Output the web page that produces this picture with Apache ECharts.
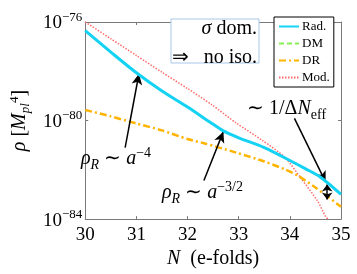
<!DOCTYPE html>
<html>
<head>
<meta charset="utf-8">
<script src="https://cdn.jsdelivr.net/npm/echarts@6/dist/echarts.min.js"></script>
<style>html,body{margin:0;padding:0;background:#fff}#c{width:357px;height:274px}</style>
</head>
<body>
<div id="c"></div>
<script>
// N (e-folds) and log10(rho / M_pl^4)
const radN  = [30, 30.5, 31, 31.5, 32, 32.45, 32.7, 33, 33.5, 34, 34.3, 34.6, 35];
const radL  = [-76.35, -77.22, -78.06, -78.8, -79.45, -80.08, -80.42, -80.7, -81.1, -81.62, -81.95, -82.3, -83.0];
const dmN   = [];
const dmL   = [];
const drN   = [30, 30.5, 31, 31.5, 32, 32.32, 32.95, 33.5, 33.9, 34.16, 34.5, 34.73, 35];
const drL   = [-79.57, -79.83, -80.12, -80.4, -80.75, -80.92, -81.3, -81.66, -81.98, -82.24, -82.72, -83.07, -83.5];
const modN  = [30, 30.5, 31, 31.5, 32, 32.47, 32.95, 33.46, 33.9, 34.22, 34.54, 34.7, 34.74];
const modL  = [-76.0, -76.68, -77.36, -78.04, -78.7, -79.35, -80.1, -80.8, -81.49, -82.35, -83.26, -83.9, -84.0];
const xTicks = [30, 31, 32, 33, 34, 35];
const yTickExp = [-84, -80, -76];
// annotation arrows [N, log10 rho] : tail -> head
const arrowA4  = [[30.78, -81.1], [31.05, -78.1]];
const arrowA32 = [[32.32, -82.43], [32.7, -80.45]];
const arrowDN  = [[34.09, -79.91], [34.7, -82.5]];
const dblArrow = [[34.73, -82.6], [34.73, -83.2]];

const SERIF = 'Liberation Serif';
const pairs = (xs, ys) => xs.map((x, i) => [x, ys[i]]);
const AX = '#7a7a7a';

const chart = echarts.init(document.getElementById('c'), null, {renderer: 'canvas'});

const mathRich = {
  m:   {fontFamily: SERIF, fontSize: 20, fontStyle: 'italic', lineHeight: 26, fill: '#000', verticalAlign: 'middle'},
  r:   {fontFamily: SERIF, fontSize: 20, lineHeight: 26, fill: '#000', verticalAlign: 'middle'},
  sub: {fontFamily: SERIF, fontSize: 14, fontStyle: 'italic', lineHeight: 14, fill: '#000', verticalAlign: 'bottom'},
  subr:{fontFamily: SERIF, fontSize: 14, lineHeight: 14, fill: '#000', verticalAlign: 'bottom'},
  sup: {fontFamily: SERIF, fontSize: 14, lineHeight: 14, fill: '#000', verticalAlign: 'top'}
};

const arrowLine = (a, doubleHead) => doubleHead ? [
  {coord: a[0], symbol: 'arrow', symbolSize: [8, 7]},
  {coord: a[1], symbol: 'arrow', symbolSize: [8, 7]}
] : [
  {coord: a[0], symbol: 'none'},
  {coord: a[1], symbol: 'arrow', symbolSize: [8, 11]}
];

const tickLabel = (v) => {
  const sup = (v < 0 ? '\u2212' : '') + Math.abs(v);
  return v === -76 ? '{bt|10}{st|' + sup + '}' : '{b|10}{s|' + sup + '}';
};

const option = {
  animation: false,
  grid: {left: 78, right: 16, top: 14, bottom: 47},
  xAxis: [{
    type: 'value', min: 30, max: 35, interval: 1,
    axisLine: {show: true, onZero: false, lineStyle: {color: AX, width: 1}},
    axisTick: {show: true, inside: true, length: 3, lineStyle: {color: AX}},
    splitLine: {show: false},
    axisLabel: {margin: 6, color: '#000', fontFamily: SERIF, fontSize: 19,
      formatter: v => xTicks.includes(v) ? String(v) : ''},
    name: '{i|N}  (e-folds)', nameLocation: 'middle', nameGap: 29,
    nameTextStyle: {color: '#000', fontFamily: SERIF, fontSize: 20,
      rich: {i: {fontFamily: SERIF, fontSize: 20, fontStyle: 'italic', color: '#000'}}}
  }, {
    type: 'value', position: 'top', min: 30, max: 35, interval: 1,
    axisLine: {show: true, onZero: false, lineStyle: {color: AX, width: 1}},
    axisTick: {show: true, inside: true, length: 3, lineStyle: {color: AX}},
    splitLine: {show: false}, axisLabel: {show: false}
  }],
  yAxis: [{
    type: 'value', min: -84, max: -76, interval: 4,
    axisLine: {show: true, onZero: false, lineStyle: {color: AX, width: 1}},
    axisTick: {show: true, inside: true, length: 3, lineStyle: {color: AX}},
    splitLine: {show: false},
    axisLabel: {margin: 3, color: '#000',
      formatter: v => yTickExp.includes(v) ? tickLabel(v) : '',
      rich: {
        b:  {fontFamily: SERIF, fontSize: 19, color: '#000', lineHeight: 22, verticalAlign: 'bottom'},
        s:  {fontFamily: SERIF, fontSize: 13, color: '#000', lineHeight: 13, verticalAlign: 'bottom', padding: [0, 0, 9, 0]},
        bt: {fontFamily: SERIF, fontSize: 19, color: '#000', lineHeight: 22, verticalAlign: 'bottom', padding: [14, 0, 0, 0]},
        st: {fontFamily: SERIF, fontSize: 13, color: '#000', lineHeight: 13, verticalAlign: 'bottom', padding: [0, 0, 9, 0]}
      }},
    name: '{i|\u03c1} [{i|M}{sub|pl}{sup|4}]', nameLocation: 'middle', nameGap: 44,
    nameTextStyle: {color: '#000', fontFamily: SERIF, fontSize: 20,
      rich: {
        i:   {fontFamily: SERIF, fontSize: 20, fontStyle: 'italic', color: '#000', lineHeight: 24, verticalAlign: 'middle'},
        sub: {fontFamily: SERIF, fontSize: 13, fontStyle: 'italic', color: '#000', lineHeight: 13, verticalAlign: 'bottom'},
        sup: {fontFamily: SERIF, fontSize: 13, color: '#000', lineHeight: 13, verticalAlign: 'top'}
      }}
  }, {
    type: 'value', position: 'right', min: -84, max: -76, interval: 4,
    axisLine: {show: true, onZero: false, lineStyle: {color: AX, width: 1}},
    axisTick: {show: true, inside: true, length: 3, lineStyle: {color: AX}},
    splitLine: {show: false}, axisLabel: {show: false}
  }],
  legend: {
    left: 274, top: 17, orient: 'vertical',
    itemWidth: 20, itemHeight: 10, itemGap: 4,
    padding: [3, 4, 3, 4],
    borderColor: '#000', borderWidth: 1, backgroundColor: '#fff',
    itemStyle: {opacity: 0},
    textStyle: {fontFamily: SERIF, fontSize: 13, color: '#000', padding: [0, 0, 0, -2]},
    data: ['Rad.', 'DM', 'DR', 'Mod.']
  },
  series: [
    {name: 'Mod.', type: 'line', data: pairs(modN, modL), symbol: 'none', smooth: 0.25, z: 2,
      lineStyle: {color: '#ff6b6b', width: 1.5, type: [1.5, 1.5]}, itemStyle: {color: '#ff6b6b'}},
    {name: 'DM', type: 'line', data: pairs(dmN, dmL), symbol: 'none', smooth: 0.25, z: 3,
      lineStyle: {color: '#86f050', width: 2.5, type: [5, 3]}, itemStyle: {color: '#86f050'}},
    {name: 'DR', type: 'line', data: pairs(drN, drL), symbol: 'none', smooth: 0.25, z: 4,
      lineStyle: {color: '#ffb400', width: 2.5, type: [7, 3, 2, 3]}, itemStyle: {color: '#ffb400'}},
    {name: 'Rad.', type: 'line', data: pairs(radN, radL), symbol: 'none', smooth: 0.3, z: 5,
      lineStyle: {color: '#14d2f4', width: 3}, itemStyle: {color: '#14d2f4'},
      markLine: {
        silent: true, animation: false,
        label: {show: false},
        lineStyle: {color: '#000', width: 1.5, type: 'solid'},
        data: [arrowLine(arrowA4), arrowLine(arrowA32), arrowLine(arrowDN), arrowLine(dblArrow, true)]
      }}
  ],
  graphic: [
    {type: 'rect', z: 50, shape: {x: 171, y: 19, width: 88, height: 44},
      style: {fill: '#fff', stroke: '#a9c8ea', lineWidth: 1}},
    {type: 'text', z: 51, x: 257, y: 29, style: {text: '{m|\u03c3}{r| dom.}', rich: mathRich, align: 'right', verticalAlign: 'middle'}},
    {type: 'text', z: 51, x: 172, y: 58, style: {text: '{r|\u21d2}', rich: mathRich, align: 'left', verticalAlign: 'middle'}},
    {type: 'text', z: 51, x: 257, y: 58, style: {text: '{r|no iso.}', rich: mathRich, align: 'right', verticalAlign: 'middle'}},
    {type: 'text', z: 51, x: 81, y: 146, style: {text: '{m|\u03c1}{sub|R}{r| \u223c }{m|a}{sup|\u22124}', rich: mathRich, align: 'left', verticalAlign: 'top'}},
    {type: 'text', z: 51, x: 162, y: 180, style: {text: '{m|\u03c1}{sub|R}{r| \u223c }{m|a}{sup|\u22123/2}', rich: mathRich, align: 'left', verticalAlign: 'top'}},
    {type: 'text', z: 51, x: 247, y: 96, style: {text: '{r|\u223c 1/\u0394}{m|N}{subr|eff}', rich: mathRich, align: 'left', verticalAlign: 'top'}}
  ]
};
chart.setOption(option);
</script>
</body>
</html>
